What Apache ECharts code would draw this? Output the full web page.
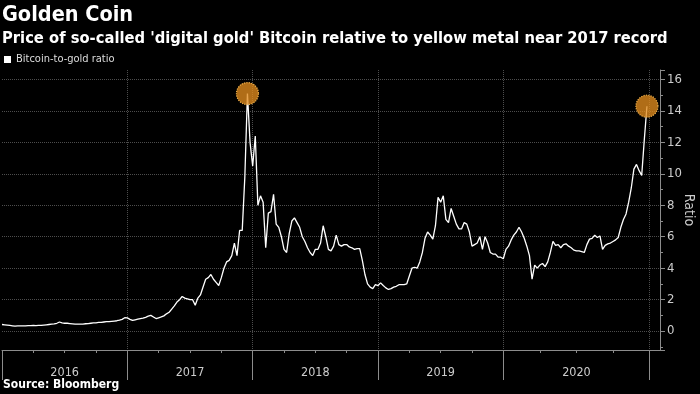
<!DOCTYPE html>
<html>
<head>
<meta charset="utf-8">
<script src="https://cdn.jsdelivr.net/npm/echarts@6/dist/echarts.min.js"></script>
<style>
html,body{margin:0;padding:0;background:#000;}
#chart{width:700px;height:394px;}
</style>
</head>
<body>
<div id="chart"></div>
<script>
// ---- data (Bitcoin-to-gold ratio, sampled along each year) ----
const years = [2016, 2017, 2018, 2019, 2020];
const ratio2016 = [0.42,0.40,0.38,0.36,0.34,0.32,0.33,0.34,0.34,0.34,0.35,0.35,0.36,0.35,0.36,0.36,0.38,0.40,0.42,0.44,0.46,0.50,0.58,0.52,0.50,0.50,0.48,0.46,0.44,0.45,0.45,0.45,0.47,0.48,0.50,0.52,0.53,0.55,0.56,0.58,0.60,0.60,0.62,0.64,0.66,0.70,0.75,0.85];
const ratio2017 = [0.84,0.75,0.68,0.72,0.76,0.80,0.82,0.88,0.95,1.00,0.90,0.80,0.85,0.90,0.97,1.10,1.20,1.40,1.60,1.85,2.00,2.20,2.10,2.05,2.00,2.00,1.65,2.10,2.30,2.80,3.30,3.40,3.60,3.30,3.10,2.90,3.40,4.00,4.40,4.50,4.80,5.60,4.80,6.40,6.40,9.80,15.10,12.00];
const ratio2018 = [10.5,12.4,8.0,8.6,8.2,5.3,7.5,7.6,8.7,6.8,6.6,6.0,5.2,5.0,6.2,7.0,7.2,6.9,6.6,6.0,5.7,5.3,5.0,4.8,5.2,5.2,5.6,6.7,6.0,5.2,5.1,5.4,6.1,5.5,5.4,5.5,5.5,5.35,5.3,5.2,5.25,5.25,4.5,3.6,3.0,2.8,2.7,2.95];
const ratio2019 = [2.9,3.07,2.9,2.75,2.65,2.7,2.8,2.85,2.95,2.95,2.95,3.0,3.5,4.0,4.06,4.0,4.4,5.0,5.9,6.3,6.1,5.85,6.7,8.5,8.2,8.6,7.1,6.9,7.8,7.3,6.8,6.5,6.5,6.9,6.8,6.3,5.4,5.5,5.6,6.0,5.2,6.0,5.6,5.0,4.9,4.9,4.7,4.7];
const ratio2020 = [4.6,5.2,5.4,5.8,6.1,6.3,6.6,6.3,5.9,5.4,4.8,3.3,4.2,4.0,4.2,4.3,4.1,4.4,5.0,5.7,5.45,5.5,5.3,5.5,5.55,5.4,5.3,5.15,5.1,5.1,5.05,5.0,5.5,5.85,5.9,6.1,5.95,6.05,5.2,5.45,5.55,5.6,5.7,5.8,5.95,6.6,7.1,7.45,8.2,9.1,10.3,10.6,10.2,9.9,12.2,14.3];
const yearSeries = [ratio2016, ratio2017, ratio2018, ratio2019, ratio2020];
const trailingSlots = 5; // empty axis room after the last year

// ---- build categories ----
const categories = [];
const values = [];
const yearStart = [];
const quarterTick = new Set();
const midYear = {};
yearSeries.forEach((arr, yi) => {
  const start = categories.length;
  yearStart.push(start);
  const q = arr.length / 4;
  midYear[start + arr.length / 2] = years[yi];
  arr.forEach((v, k) => {
    categories.push(years[yi] + '-' + k);
    values.push(v);
    if (k % q === 0 && k !== 0) quarterTick.add(start + k);
  });
});
const endIdx = categories.length;
yearStart.push(endIdx);
for (let i = 0; i < trailingSlots; i++) { categories.push('end-' + i); values.push(null); }
const yearSet = new Set(yearStart);

function peakOf(yi) {
  const start = yearStart[yi];
  const arr = yearSeries[yi];
  let m = 0;
  arr.forEach((v, k) => { if (v > arr[m]) m = k; });
  return { coord: [categories[start + m], arr[m]] };
}

const FONT = '"DejaVu Sans Condensed","Liberation Sans",sans-serif';
const AX = '#8c8c8c';
const GRID = '#4d4d4d';

const chart = echarts.init(document.getElementById('chart'), null, {renderer: 'canvas'});
chart.setOption({
  backgroundColor: '#000',
  animation: false,
  title: [{
    left: 2, top: 4, padding: 0, itemGap: 5,
    text: 'Golden Coin',
    textStyle: {color: '#fff', fontSize: 21.5, fontWeight: 'bold', fontFamily: FONT},
    subtext: "Price of so-called 'digital gold' Bitcoin relative to yellow metal near 2017 record",
    subtextStyle: {color: '#fff', fontSize: 16.4, fontWeight: 'bold', fontFamily: FONT}
  }, {
    left: 3, bottom: 3, padding: 0,
    text: 'Source: Bloomberg',
    textStyle: {color: '#fff', fontSize: 12, fontWeight: 'bold', fontFamily: FONT}
  }],
  legend: {
    left: 4, top: 54, padding: 0, icon: 'rect', itemWidth: 7, itemHeight: 7,
    textStyle: {color: '#ddd', fontSize: 11, fontFamily: FONT},
    data: ['Bitcoin-to-gold ratio']
  },
  grid: {left: 2, right: 40, top: 70, bottom: 44, containLabel: false, outerBoundsMode: 'none'},
  xAxis: [{
    type: 'category', data: categories, boundaryGap: false, position: 'bottom',
    axisLine: {onZero: false, lineStyle: {color: AX, width: 1}},
    axisTick: {show: true, length: 30, interval: (i) => yearSet.has(i), lineStyle: {color: AX}},
    axisLabel: {interval: (i) => midYear[i] !== undefined, formatter: (v, i) => midYear[i] !== undefined ? String(midYear[i]) : '',
      color: '#ccc', fontSize: 12.5, fontFamily: FONT, margin: 16},
    splitLine: {show: true, interval: (i) => yearSet.has(i) && i !== 0, lineStyle: {color: GRID, type: 'dotted'}}
  }, {
    type: 'category', data: categories, boundaryGap: false, position: 'bottom',
    axisLine: {show: false, onZero: false},
    axisTick: {show: true, length: 3, interval: (i) => quarterTick.has(i), lineStyle: {color: AX}},
    axisLabel: {show: false}, splitLine: {show: false}
  }],
  yAxis: {
    type: 'value', position: 'right', min: -1.2, max: 16.6, splitNumber: 9,
    axisLine: {show: true, lineStyle: {color: AX}},
    axisTick: {show: true, length: 5, lineStyle: {color: AX}},
    minorTick: {show: true, splitNumber: 2, length: 3, lineStyle: {color: AX}},
    axisLabel: {color: '#ccc', fontSize: 13, fontFamily: FONT, margin: 7, showMinLabel: false, showMaxLabel: false,
      formatter: (v) => (Math.abs(v % 2) < 1e-9 ? String(v) : '')},
    splitLine: {show: true, showMinLine: false, showMaxLine: false, lineStyle: {color: GRID, type: 'dotted'}},
    name: 'Ratio', nameLocation: 'middle', nameRotate: -90, nameGap: 22, nameMoveOverlap: false,
    nameTextStyle: {color: '#ccc', fontSize: 14, fontFamily: FONT}
  },
  series: [{
    name: 'Bitcoin-to-gold ratio', type: 'line', data: values, xAxisIndex: 0,
    symbol: 'none', color: '#fff', lineStyle: {color: '#fff', width: 1.3},
    markPoint: {
      symbol: 'circle', symbolSize: 22, label: {show: false}, silent: true,
      itemStyle: {color: 'rgba(225,140,30,0.78)', borderColor: '#f0b04a', borderWidth: 1.2, borderType: 'dotted'},
      data: [peakOf(1), peakOf(4)]
    }
  }]
});
</script>
</body>
</html>
